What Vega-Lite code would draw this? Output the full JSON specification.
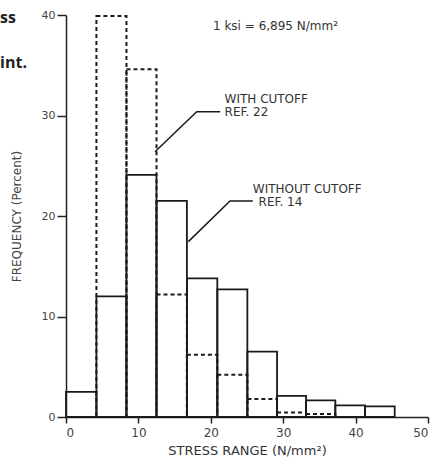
{
  "$schema": "https://vega.github.io/schema/vega-lite/v6.json",
  "width": 362,
  "height": 402,
  "autosize": {"type": "none"},
  "padding": {"left": 66, "top": 15, "right": 8, "bottom": 43},
  "background": "#ffffff",
  "config": {
    "view": {"stroke": null},
    "font": "DejaVu Sans"
  },
  "datasets": {
    "withCutoff": [
      {"x0": 4.2, "x1": 8.35, "freq": 39.9},
      {"x0": 8.35, "x1": 12.5, "freq": 34.6},
      {"x0": 12.5, "x1": 16.7, "freq": 12.2},
      {"x0": 16.7, "x1": 20.9, "freq": 6.2},
      {"x0": 20.9, "x1": 25.05, "freq": 4.2},
      {"x0": 25.05, "x1": 29.15, "freq": 1.8},
      {"x0": 29.15, "x1": 33.15, "freq": 0.45},
      {"x0": 33.15, "x1": 37.2, "freq": 0.3}
    ],
    "withoutCutoff": [
      {"x0": 0, "x1": 4.2, "freq": 2.5},
      {"x0": 4.2, "x1": 8.35, "freq": 12.0},
      {"x0": 8.35, "x1": 12.5, "freq": 24.1},
      {"x0": 12.5, "x1": 16.7, "freq": 21.5},
      {"x0": 16.7, "x1": 20.9, "freq": 13.8},
      {"x0": 20.9, "x1": 25.05, "freq": 12.7},
      {"x0": 25.05, "x1": 29.15, "freq": 6.5},
      {"x0": 29.15, "x1": 33.15, "freq": 2.1},
      {"x0": 33.15, "x1": 37.2, "freq": 1.65},
      {"x0": 37.2, "x1": 41.3, "freq": 1.15},
      {"x0": 41.3, "x1": 45.4, "freq": 1.05}
    ],
    "leaders": [
      {"g": "with", "s": 1, "x": 12.3, "y": 26.4},
      {"g": "with", "s": 2, "x": 18.05, "y": 30.37},
      {"g": "with", "s": 3, "x": 21.3, "y": 30.37},
      {"g": "without", "s": 1, "x": 16.9, "y": 17.45},
      {"g": "without", "s": 2, "x": 22.65, "y": 21.5},
      {"g": "without", "s": 3, "x": 25.8, "y": 21.5}
    ],
    "notes": [
      {"x": 20.3, "y": 38.9, "text": "1 ksi = 6,895 N/mm²"},
      {"x": 21.9, "y": 31.65, "text": "WITH CUTOFF"},
      {"x": 21.9, "y": 30.3, "text": "REF. 22"},
      {"x": 25.8, "y": 22.7, "text": "WITHOUT CUTOFF"},
      {"x": 26.6, "y": 21.35, "text": "REF. 14"}
    ],
    "margin": [
      {"x": -9.1, "y": 39.7, "text": "ss"},
      {"x": -9.1, "y": 35.2, "text": "int."}
    ]
  },
  "encoding": {
    "x": {
      "type": "quantitative",
      "scale": {"domain": [0, 50], "nice": false, "zero": false}
    },
    "y": {
      "type": "quantitative",
      "scale": {"domain": [0, 40], "nice": false}
    }
  },
  "layer": [
    {
      "data": {"name": "withCutoff"},
      "mark": {"type": "rect", "fill": null, "fillOpacity": 0, "stroke": "#1a1a1a", "strokeWidth": 2, "strokeDash": [4, 3]},
      "encoding": {
        "x": {"field": "x0", "type": "quantitative", "scale": {"domain": [0, 50], "nice": false}, "axis": {
          "values": [0, 10, 20, 30, 40, 50],
          "grid": false,
          "tickSize": 6,
          "tickColor": "#222",
          "domainColor": "#222",
          "domainWidth": 1.5,
          "tickWidth": 1.5,
          "labelFontSize": 12,
          "labelColor": "#444",
          "labelPadding": 4,
          "title": "STRESS RANGE  (N/mm²)",
          "titleFontSize": 13,
          "titleFontWeight": "normal",
          "titleColor": "#333",
          "titlePadding": 6
        }},
        "x2": {"field": "x1"},
        "y": {"field": "freq", "type": "quantitative", "scale": {"domain": [0, 40], "nice": false}, "axis": {
          "values": [0, 10, 20, 30, 40],
          "grid": false,
          "tickSize": 9,
          "tickColor": "#222",
          "domainColor": "#222",
          "domainWidth": 1.5,
          "tickWidth": 1.5,
          "labelFontSize": 11,
          "labelColor": "#444",
          "labelPadding": 2,
          "title": "FREQUENCY  (Percent)",
          "titleFontSize": 12,
          "titleFontWeight": "normal",
          "titleColor": "#444",
          "titlePadding": 18
        }},
        "y2": {"datum": 0}
      }
    },
    {
      "data": {"name": "withoutCutoff"},
      "mark": {"type": "rect", "fill": null, "fillOpacity": 0, "stroke": "#1a1a1a", "strokeWidth": 1.8},
      "encoding": {
        "x": {"field": "x0", "type": "quantitative"},
        "x2": {"field": "x1"},
        "y": {"field": "freq", "type": "quantitative"},
        "y2": {"datum": 0}
      }
    },
    {
      "data": {"name": "leaders"},
      "mark": {"type": "line", "stroke": "#1a1a1a", "strokeWidth": 1.5},
      "encoding": {
        "x": {"field": "x", "type": "quantitative"},
        "y": {"field": "y", "type": "quantitative"},
        "detail": {"field": "g"},
        "order": {"field": "s", "type": "quantitative"}
      }
    },
    {
      "data": {"name": "notes"},
      "mark": {"type": "text", "align": "left", "baseline": "middle", "fontSize": 12, "fill": "#333", "font": "DejaVu Sans"},
      "encoding": {
        "x": {"field": "x", "type": "quantitative"},
        "y": {"field": "y", "type": "quantitative"},
        "text": {"field": "text"}
      }
    },
    {
      "data": {"name": "margin"},
      "mark": {"type": "text", "align": "left", "baseline": "middle", "fontSize": 16, "fontWeight": "bold", "fill": "#222", "font": "Open Sans", "clip": false},
      "encoding": {
        "x": {"field": "x", "type": "quantitative"},
        "y": {"field": "y", "type": "quantitative"},
        "text": {"field": "text"}
      }
    }
  ]
}
